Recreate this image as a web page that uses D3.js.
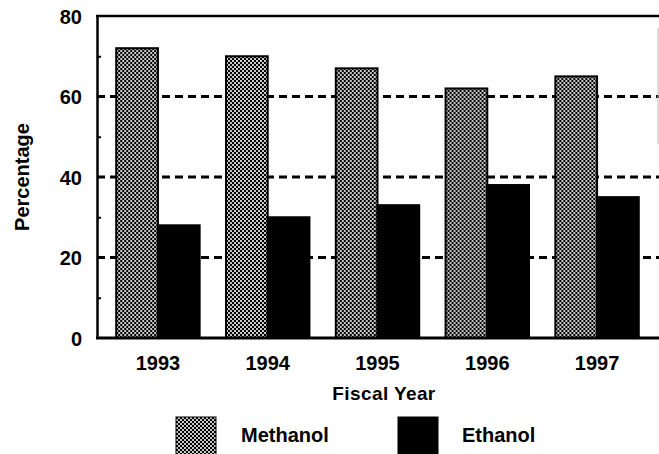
<!DOCTYPE html>
<html>
<head>
<meta charset="utf-8">
<script src="https://cdn.jsdelivr.net/npm/d3@7"></script>
<style>
  html, body { margin: 0; padding: 0; background: #fff; }
  svg { display: block; }
  text { font-family: "Liberation Sans", Arial, Helvetica, sans-serif; font-weight: bold; fill: #000; }
</style>
</head>
<body>
<svg id="chart" width="659" height="454"></svg>
<script>
// ---- data ----
const years = ["1993", "1994", "1995", "1996", "1997"];
const seriesNames = ["Methanol", "Ethanol"];
const methanol = [72, 70, 67, 62, 65];
const ethanol = [28, 30, 33, 38, 35];
const yTicks = [0, 20, 40, 60, 80];
const yMinorTicks = [10, 30, 50, 70];
const gridValues = [20, 40, 60];

const seriesValues = { Methanol: methanol, Ethanol: ethanol };

// ---- layout ----
const W = 659, H = 454;
const plot = { left: 97, right: 658, top: 16, bottom: 338 };

const svg = d3.select("#chart");

// pattern for Methanol (dithered checker)
const defs = svg.append("defs");
const pat = defs.append("pattern")
  .attr("id", "checker")
  .attr("patternUnits", "userSpaceOnUse")
  .attr("width", 4).attr("height", 4);
pat.append("rect").attr("width", 4).attr("height", 4).attr("fill", "#c8c8c8");
pat.append("rect").attr("x", 0).attr("y", 0).attr("width", 2).attr("height", 2).attr("fill", "#000");
pat.append("rect").attr("x", 2).attr("y", 2).attr("width", 2).attr("height", 2).attr("fill", "#000");

const fills = { Methanol: "url(#checker)", Ethanol: "#000" };

// ---- scales ----
const x = d3.scaleBand()
  .domain(years)
  .range([plot.left, plot.right])
  .paddingInner(0.24)
  .paddingOuter(0.175);

const xs = d3.scaleBand()
  .domain(seriesNames)
  .range([0, x.bandwidth()])
  .padding(0);

const y = d3.scaleLinear()
  .domain([0, 80])
  .range([plot.bottom, plot.top]);

// ---- gridlines (dashed) ----
svg.append("g")
  .selectAll("line")
  .data(gridValues)
  .join("line")
  .attr("x1", plot.left)
  .attr("x2", W)
  .attr("y1", d => y(d))
  .attr("y2", d => y(d))
  .attr("stroke", "#000")
  .attr("stroke-width", 3)
  .attr("stroke-dasharray", "8,5");

// ---- bars ----
const groups = svg.append("g")
  .selectAll("g")
  .data(years)
  .join("g")
  .attr("transform", d => `translate(${x(d)},0)`);

groups.selectAll("rect")
  .data((yr, i) => seriesNames.map(s => ({ s, v: seriesValues[s][i] })))
  .join("rect")
  .attr("x", d => xs(d.s))
  .attr("width", xs.bandwidth())
  .attr("y", d => y(d.v))
  .attr("height", d => y(0) - y(d.v))
  .attr("fill", d => fills[d.s])
  .attr("stroke", "#000")
  .attr("stroke-width", 2);

// ---- axes ----
const yAxis = d3.axisLeft(y)
  .tickValues(yTicks)
  .tickSize(0)
  .tickPadding(15)
  .tickFormat(d3.format("d"));

const gy = svg.append("g")
  .attr("transform", `translate(${plot.left},0)`)
  .call(yAxis);
gy.select(".domain").attr("stroke", "#000").attr("stroke-width", 2.5);
gy.selectAll("text").style("font-size", "20px").attr("dy", "0.36em");

// minor ticks (inside)
const yMinor = d3.axisRight(y).tickValues(yMinorTicks).tickSize(4).tickFormat("");
const gym = svg.append("g").attr("transform", `translate(${plot.left},0)`).call(yMinor);
gym.select(".domain").remove();
gym.selectAll("line").attr("stroke", "#000").attr("stroke-width", 2);

const xAxis = d3.axisBottom(x).tickSize(0).tickPadding(14);
const gx = svg.append("g")
  .attr("transform", `translate(0,${plot.bottom})`)
  .call(xAxis);
gx.select(".domain").remove();
gx.selectAll("text").style("font-size", "20px").attr("dy", "0.9em");

// baseline and top border
svg.append("line")
  .attr("x1", plot.left - 1).attr("x2", W)
  .attr("y1", plot.bottom).attr("y2", plot.bottom)
  .attr("stroke", "#000").attr("stroke-width", 3);
svg.append("line")
  .attr("x1", plot.left - 1).attr("x2", W)
  .attr("y1", plot.top).attr("y2", plot.top)
  .attr("stroke", "#000").attr("stroke-width", 2.5);
svg.append("line")
  .attr("x1", plot.right).attr("x2", plot.right)
  .attr("y1", plot.top + 12).attr("y2", plot.top + 128)
  .attr("stroke", "#bbb").attr("stroke-width", 1);

// ---- axis titles ----
svg.append("text")
  .attr("transform", `translate(29,${(plot.top + plot.bottom) / 2}) rotate(-90)`)
  .attr("text-anchor", "middle")
  .style("font-size", "20px")
  .text("Percentage");

svg.append("text")
  .attr("x", 384)
  .attr("y", 400)
  .attr("text-anchor", "middle")
  .style("font-size", "19px")
  .style("letter-spacing", "0.4px")
  .text("Fiscal Year");

// ---- legend ----
const legendPos = { Methanol: 176, Ethanol: 398 };
const legend = svg.append("g")
  .selectAll("g")
  .data(seriesNames)
  .join("g")
  .attr("transform", d => `translate(${legendPos[d]},417)`);
legend.append("rect")
  .attr("width", 40).attr("height", 40)
  .attr("fill", d => fills[d])
  .attr("stroke", "#000").attr("stroke-width", 1);
legend.append("text")
  .attr("x", d => d === "Methanol" ? 65 : 64)
  .attr("y", 25)
  .style("font-size", "20px")
  .text(d => d);
</script>
</body>
</html>
